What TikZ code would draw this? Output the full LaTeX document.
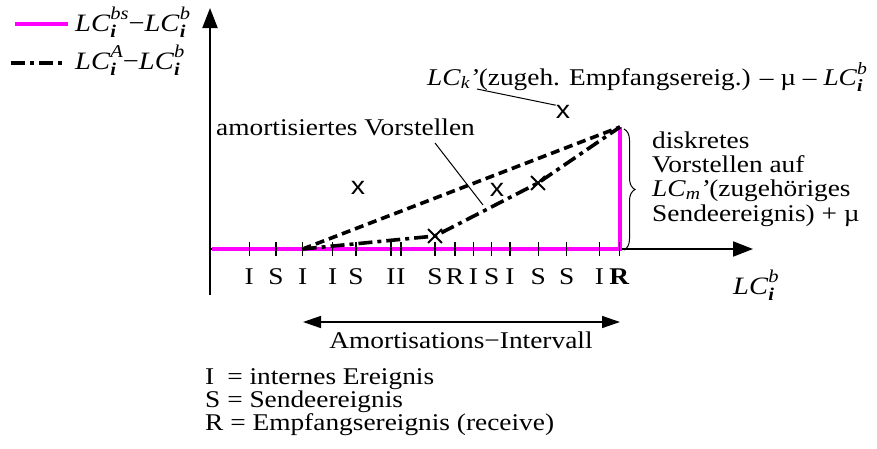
\documentclass[tikz,border=0pt]{standalone}
\usepackage{fontspec}
\setmainfont[FakeStretch=1.14]{Liberation Serif}
\setsansfont[FakeStretch=1.14]{Liberation Sans}
\usetikzlibrary{arrows.meta,decorations.pathreplacing,shapes.misc}
\definecolor{lcmagenta}{RGB}{255,0,255}

% small index letters, relative to the current size
\newcommand{\lcscr}[1]{{\fontsize{\fpeval{0.72*\csname f@size\endcsname}}{0}\selectfont #1}}
\newcommand{\lcib}[1]{\textit{LC}\makebox[0pt][l]{\raisebox{-0.25em}{\lcscr{\bfseries\itshape i}}}\raisebox{0.45em}{\lcscr{\itshape #1}}}
\newcommand{\lcsub}[1]{\textit{LC}\raisebox{-0.15em}{\lcscr{\itshape #1}}}

\begin{document}
\begin{tikzpicture}[x=1pt,y=-1pt,
    axis/.style={line width=2pt, -{Triangle[length=20pt,width=15pt]}},
    pinkline/.style={lcmagenta, line width=4pt},
    amort/.style={line width=3.6pt, dash pattern=on 14pt off 5pt on 4pt off 5pt},
    direct/.style={line width=3.6pt, dash pattern=on 9pt off 5pt},
    pointer/.style={line width=1pt},
    txt/.style={inner sep=0pt, font=\fontsize{24}{24}\selectfont},
    bigtxt/.style={inner sep=0pt, font=\fontsize{25}{25}\selectfont},
    xsym/.style={inner sep=0pt, font=\sffamily\fontsize{25}{25}\selectfont},
    crossmark/.style={cross out, draw, line width=1.8pt, minimum size=12pt, inner sep=0pt}]

    \useasboundingbox (0,0) rectangle (877,448);

    % Axes
    \coordinate (ybot) at (210,295);
    \coordinate (ytop) at (210,8);
    \coordinate (xbeg) at (210,249);
    \coordinate (xend) at (753,249);
    \draw[axis] (ybot) -- (ytop);
    \draw[axis] (xbeg) -- (xend);
    \node[bigtxt, anchor=base west] (xlabel) at (733,294) {\lcib{b}};

    % Curves
    \coordinate (start) at (302.7,249);
    \coordinate (bend1) at (435,236);
    \coordinate (bend2) at (538,183);
    \coordinate (peak) at (620,127);
    \coordinate (pbeg) at (212,249);
    \coordinate (pcorner) at (620,249);
    \draw[pinkline] (pbeg) -- (pcorner) -- (peak);
    \draw[direct] (start) -- (peak);
    \draw[amort] (start) -- (bend1) -- (bend2) -- (peak);
    \node[crossmark] (cm1) at (bend1) {};
    \node[crossmark] (cm2) at (bend2) {};

    % Ticks with event letters
    \foreach \x/\ev in {249.3/I, 276/S, 302.7/I, 332.7/I, 356/S, 391/I, 401/I,
        435/S, 455/R, 473.3/I, 491.7/S, 510/I, 538.3/S, 566.7/S, 599.3/I, 619.3/\textbf{R}} {
      \draw[line width=1.2pt] (\x,242) -- (\x,256);
      \node[txt, anchor=base] at (\x,284) {\ev};
    }

    % Single events
    \node[xsym] (ev1) at (358,188) {x};
    \node[xsym] (ev2) at (497,190) {x};
    \node[xsym] (ev3) at (563,112) {x};

    % Labels
    \node[txt, anchor=base west] (amlabel) at (216,135) {amortisiertes Vorstellen};
    \coordinate (ambeg) at (435,143);
    \coordinate (ampt) at (483,205);
    \draw[pointer] (ambeg) -- (ampt);
    \node[txt, anchor=base west] (toplabel) at (427,85)
        {\lcsub{k}\textit{’}(zugeh. Empfangsereig.) – µ – \lcib{b}};
    \coordinate (topbeg) at (477,89);
    \draw[pointer] (topbeg) -- (ev3.north west);

    \draw[decorate, decoration={brace, amplitude=11pt}, line width=1pt] (624,129) -- (624,250);
    \node[txt, anchor=base west] (br1) at (652,148) {diskretes};
    \node[txt, anchor=base west] (br2) at (652,172) {Vorstellen auf};
    \node[txt, anchor=base west] (br3) at (652,196) {\lcsub{m}\textit{’}(zugehöriges};
    \node[txt, anchor=base west] (br4) at (652,221) {Sendeereignis) + µ};

    % Interval
    \coordinate (ivbeg) at (303,322);
    \coordinate (ivend) at (620,322);
    \draw[line width=1.5pt, {Triangle[length=18pt,width=12pt]}-{Triangle[length=18pt,width=12pt]}] (ivbeg) -- (ivend);
    \node[txt, anchor=base] (ivlabel) at (461,348) {Amortisations−Intervall};

    % Key of letters
    \node[txt, anchor=base west] (keyI) at (205,384) {\rlap{I}\hphantom{S} = internes Ereignis};
    \node[txt, anchor=base west] (keyS) at (205,407) {S = Sendeereignis};
    \node[txt, anchor=base west] (keyR) at (205,430) {R = Empfangsereignis (receive)};

    % Legend
    \coordinate (lg1a) at (15,24);
    \coordinate (lg1b) at (68,24);
    \coordinate (lg2a) at (11,63);
    \coordinate (lg2b) at (66,63);
    \draw[pinkline] (lg1a) -- (lg1b);
    \draw[amort] (lg2a) -- (lg2b);
    \node[bigtxt, anchor=base west] (lgtxt1) at (75,31) {\lcib{bs}−\lcib{b}};
    \node[bigtxt, anchor=base west] (lgtxt2) at (75,69) {\lcib{A}−\lcib{b}};
\end{tikzpicture}
\end{document}
